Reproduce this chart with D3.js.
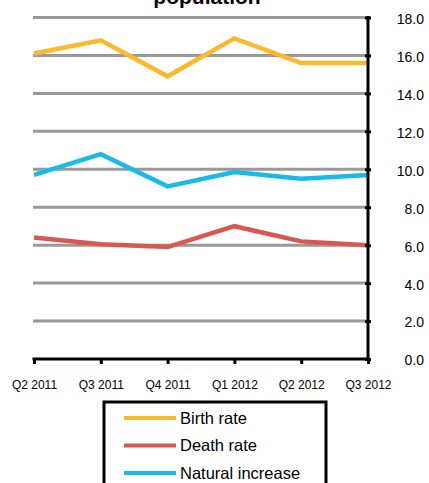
<!DOCTYPE html>
<html>
<head>
<meta charset="utf-8">
<script src="https://cdn.jsdelivr.net/npm/d3@7"></script>
<style>
  html, body { margin: 0; padding: 0; background: #fff; }
  svg { display: block; font-family: "Liberation Sans", Arial, Helvetica, sans-serif; }
</style>
</head>
<body>
<svg id="chart" width="429" height="483"></svg>
<script>
const categories = ["Q2 2011", "Q3 2011", "Q4 2011", "Q1 2012", "Q2 2012", "Q3 2012"];
const birthRate = [16.1, 16.8, 14.9, 16.9, 15.6, 15.6];
const deathRate = [6.4, 6.05, 5.9, 7.0, 6.2, 6.0];
const naturalIncrease = [9.7, 10.8, 9.1, 9.85, 9.5, 9.7];
const seriesNames = ["Birth rate", "Death rate", "Natural increase"];
const seriesColors = ["#FBB92B", "#D95651", "#18BBE8"];
const yTicks = [0, 2, 4, 6, 8, 10, 12, 14, 16, 18];
const titleText = "population";

const series = [birthRate, deathRate, naturalIncrease].map((vals, i) => ({
  name: seriesNames[i], color: seriesColors[i], values: vals
}));

const svg = d3.select("#chart");
const x = d3.scalePoint().domain(categories).range([34, 368]);
const y = d3.scaleLinear().domain([0, 18]).range([359, 17.5]);

// title (its upper part lies above the picture, as in the reference)
svg.append("text")
  .attr("x", 207).attr("y", 4)
  .attr("text-anchor", "middle")
  .attr("font-weight", "bold")
  .attr("font-size", 21)
  .text(titleText);

// gridlines
svg.append("g").selectAll("line")
  .data(yTicks.filter(d => d > 0))
  .join("line")
  .attr("x1", 33).attr("x2", 368)
  .attr("y1", d => y(d)).attr("y2", d => y(d))
  .attr("stroke", "#999").attr("stroke-width", 3);

// series lines
const line = d3.line().x((d, i) => x(categories[i])).y(d => y(d));
svg.append("g").selectAll("path")
  .data(series)
  .join("path")
  .attr("d", d => line(d.values))
  .attr("fill", "none")
  .attr("stroke", d => d.color)
  .attr("stroke-width", 4.5)
  .attr("stroke-linejoin", "miter");

// bottom axis
const xAxis = svg.append("g")
  .attr("transform", `translate(0,${y(0)})`)
  .call(d3.axisBottom(x).tickSize(5).tickPadding(16));
xAxis.select(".domain").attr("d", `M${x.range()[0] - 1.5},0H${x.range()[1] + 1.5}`).attr("stroke", "#000").attr("stroke-width", 3);
xAxis.selectAll(".tick line").attr("stroke", "#000").attr("stroke-width", 3).attr("y1", -1);
xAxis.selectAll(".tick text").attr("font-size", 12).attr("fill", "#000").attr("font-family", "Liberation Sans, Arial, sans-serif");

// right axis
const yAxis = svg.append("g")
  .attr("transform", `translate(368,0)`)
  .call(d3.axisRight(y).tickValues(yTicks).tickFormat(d3.format(".1f")).tickSize(3));
yAxis.select(".domain").attr("d", `M0,${y(18) - 1.5}V${y(0) + 1.5}`).attr("stroke", "#000").attr("stroke-width", 3);
yAxis.selectAll(".tick line").attr("stroke", "#000").attr("stroke-width", 3).attr("x1", -3).attr("x2", 3);
yAxis.selectAll(".tick text")
  .attr("x", 56).attr("dy", "0.42em")
  .attr("text-anchor", "end")
  .attr("font-size", 14).attr("fill", "#000")
  .attr("font-family", "Liberation Sans, Arial, sans-serif");

// legend
const legend = svg.append("g");
legend.append("rect")
  .attr("x", 104).attr("y", 402).attr("width", 222).attr("height", 100)
  .attr("fill", "#fff").attr("stroke", "#000").attr("stroke-width", 3);
const items = legend.selectAll("g.item").data(series).join("g").attr("class", "item")
  .attr("transform", (d, i) => `translate(0,${418 + i * 27.5})`);
items.append("line")
  .attr("x1", 124).attr("x2", 176).attr("y1", 0).attr("y2", 0)
  .attr("stroke", d => d.color).attr("stroke-width", 4);
items.append("text")
  .attr("x", 180).attr("y", 0).attr("dy", "0.36em")
  .attr("font-size", 16.5).attr("fill", "#000")
  .text(d => d.name);
</script>
</body>
</html>
